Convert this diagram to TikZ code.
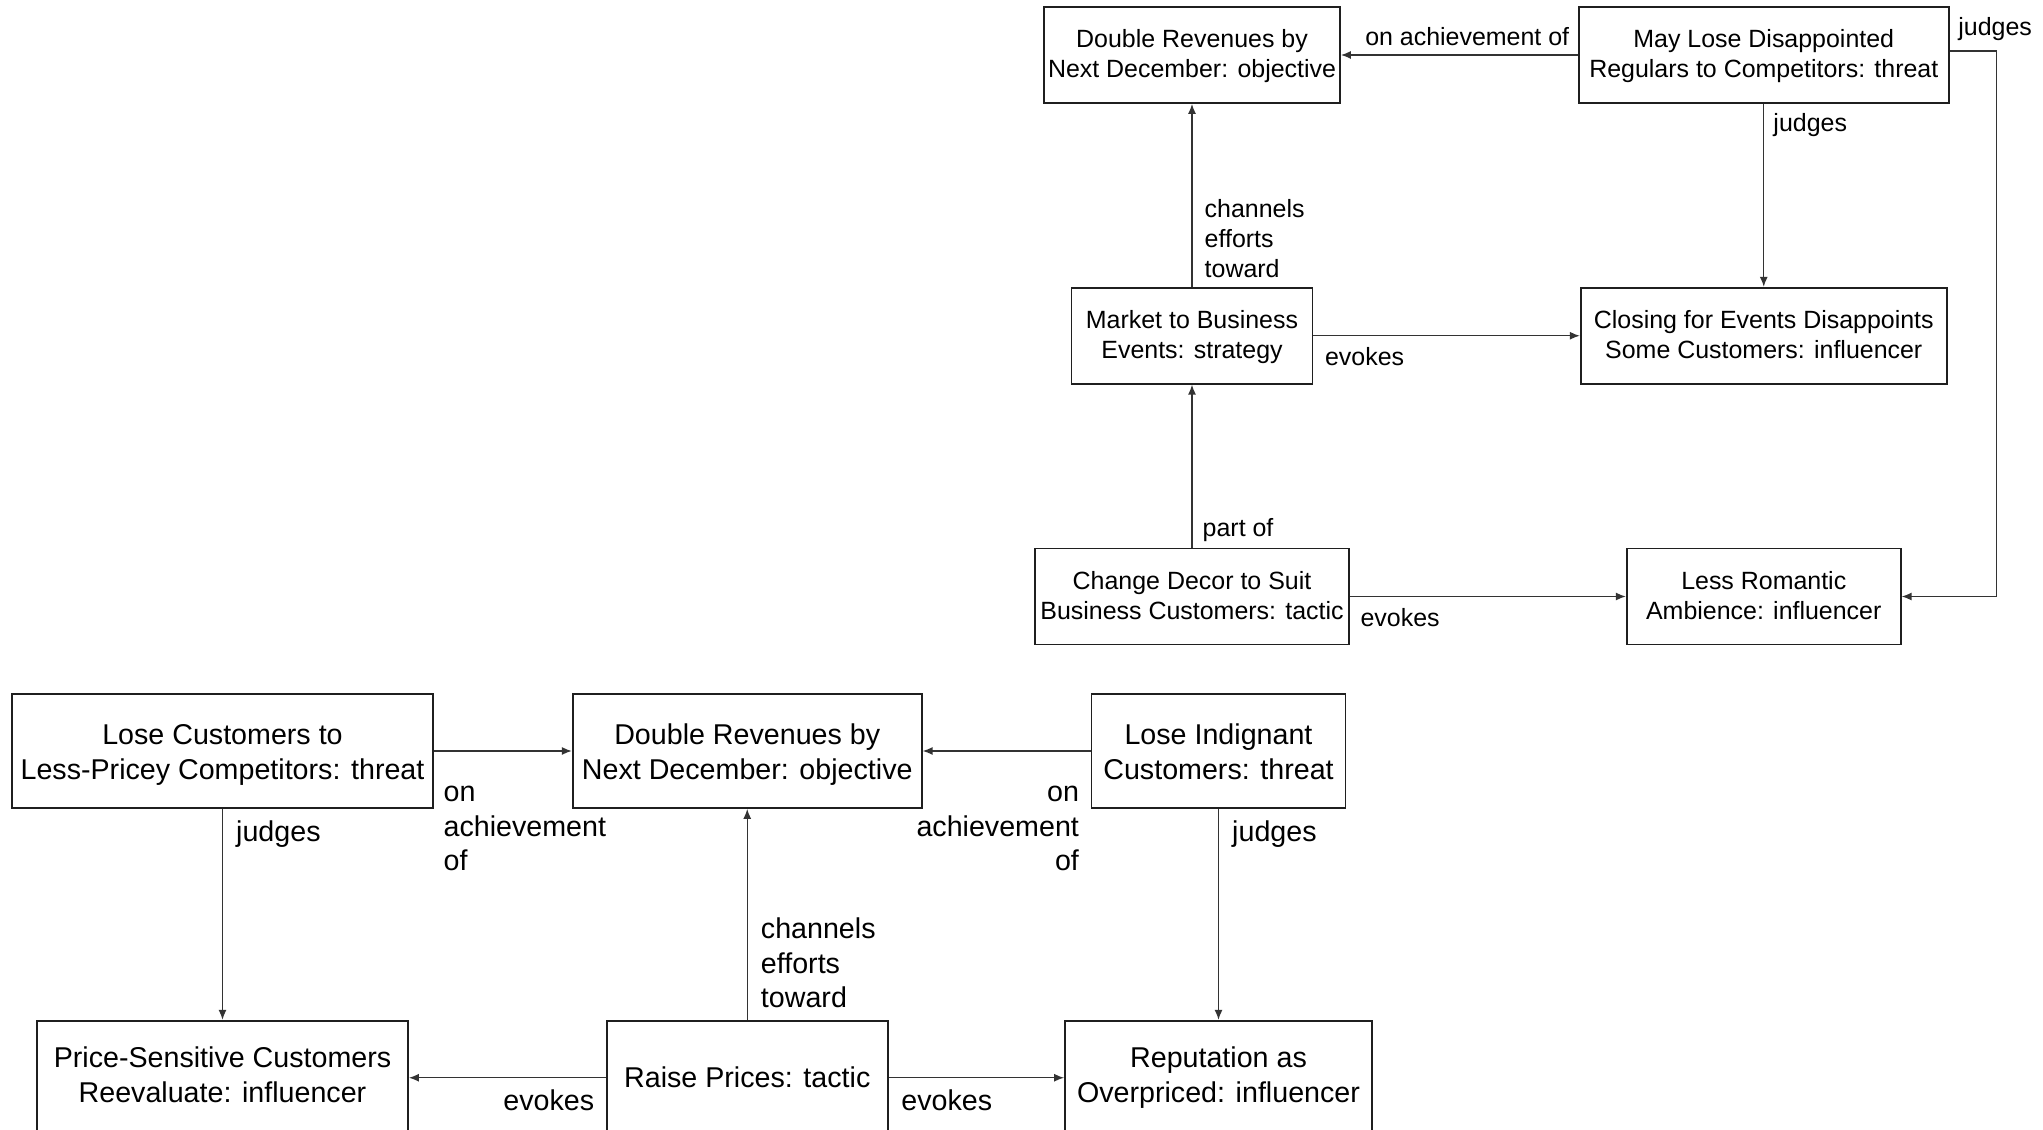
\documentclass[tikz,border=0pt]{standalone}
\usepackage{fontspec}
\setmainfont{Liberation Sans}
\usetikzlibrary{arrows.meta,positioning}
\definecolor{MapEdge}{HTML}{1F1F1F}
\definecolor{MapLine}{HTML}{333333}

\begin{document}
\begin{tikzpicture}[
  topbox/.style={rectangle,draw=MapEdge,line width=0.5pt,align=center,inner sep=0pt,minimum height=0.96cm,font=\fontsize{7.1}{8.5}\selectfont,execute at begin node=\rule{0pt}{15pt},execute at end node=\rule[-2pt]{0pt}{2pt}},
  botone/.style={rectangle,draw=MapEdge,line width=0.5pt,align=center,inner sep=0pt,minimum height=1.14cm,font=\fontsize{8.15}{9.9}\selectfont},
  botbox/.style={botone,execute at begin node=\rule{0pt}{#1},execute at end node=\rule[-2.3pt]{0pt}{2.3pt}},
  botbox/.default=18.6pt,
  toplbl/.style={inner sep=0pt,align=left,font=\fontsize{7.1}{8.5}\selectfont,execute at begin node=\strut,execute at end node=\strut},
  botlbl/.style={inner sep=0pt,align=left,font=\fontsize{8.15}{9.8}\selectfont,execute at begin node=\strut,execute at end node=\strut},
  link/.style={-{Latex[length=1mm,width=0.8mm]},draw=MapLine,line width=0.4pt}
]
\useasboundingbox (0,0) rectangle (20.43,-11.30);
% upper map: business events
\node[topbox,minimum width=2.96cm] (obj1) at (11.92,-0.55) {Double Revenues by\\Next December: objective};
\node[topbox,minimum width=3.70cm,right=2.37cm of obj1] (maylose) {May Lose Disappointed\\Regulars to Competitors: threat};
\node[topbox,minimum width=2.41cm,below=1.83cm of obj1] (market) {Market to Business\\Events: strategy};
\node[topbox,minimum width=3.66cm,below=1.83cm of maylose] (closing) {Closing for Events Disappoints\\Some Customers: influencer};
\node[topbox,minimum width=3.14cm,below=1.63cm of market] (decor) {Change Decor to Suit\\Business Customers: tactic};
\node[topbox,minimum width=2.74cm,below=1.63cm of closing] (romantic) {Less Romantic\\Ambience: influencer};
\draw[link] (market) -- node[toplbl,at start,anchor=south west,xshift=0.12cm]{channels\\efforts\\toward} (obj1);
\draw[link] (decor) -- node[toplbl,at start,anchor=south west,xshift=0.10cm,yshift=0.01cm]{part of} (market);
\draw[link] (maylose) -- node[toplbl,at start,anchor=south east,xshift=-0.08cm]{on achievement of} (obj1);
\draw[link] (maylose) -- node[toplbl,at start,anchor=north west,xshift=0.09cm,yshift=-0.06cm]{judges} (closing);
\draw[link] (market) -- node[toplbl,at start,anchor=north west,xshift=0.11cm,yshift=-0.08cm]{evokes} (closing);
\draw[link] (decor) -- node[toplbl,at start,anchor=north west,xshift=0.10cm,yshift=-0.08cm]{evokes} (romantic);
\draw[link] ([yshift=0.04cm]maylose.east) -- node[toplbl,at start,anchor=south west,xshift=0.08cm,yshift=0.06cm]{judges} ([xshift=0.47cm,yshift=0.04cm]maylose.east) |- (romantic);

% lower map: raise prices
\node[botbox,minimum width=4.21cm] (losecust) at (2.225,-7.51) {Lose Customers to\\Less-Pricey Competitors: threat};
\node[botbox,minimum width=3.49cm,right=1.38cm of losecust] (obj2) {Double Revenues by\\Next December: objective};
\node[botbox,minimum width=2.54cm,right=1.68cm of obj2] (loseind) {Lose Indignant\\Customers: threat};
\node[botbox=16.4pt,minimum width=3.71cm,below=2.11cm of losecust] (pricesens) {Price-Sensitive Customers\\Reevaluate: influencer};
\node[botone,minimum width=2.81cm,below=2.11cm of obj2] (raise) {Raise Prices: tactic};
\node[botbox=16.4pt,minimum width=3.07cm,below=2.11cm of loseind] (reputation) {Reputation as\\Overpriced: influencer};
\draw[link] (losecust) -- node[botlbl,at start,anchor=north west,xshift=0.09cm,yshift=-0.345cm]{on\\achievement\\of} (obj2);
\draw[link] (loseind) -- node[botlbl,at start,anchor=north east,align=right,xshift=-0.11cm,yshift=-0.345cm]{on\\achievement\\of} (obj2);
\draw[link] (losecust) -- node[botlbl,at start,anchor=north west,xshift=0.13cm,yshift=-0.08cm]{judges} (pricesens);
\draw[link] (loseind) -- node[botlbl,at start,anchor=north west,xshift=0.13cm,yshift=-0.08cm]{judges} (reputation);
\draw[link] (raise) -- node[botlbl,at start,anchor=south west,xshift=0.13cm,yshift=0.01cm]{channels\\efforts\\toward} (obj2);
\draw[link] (raise) -- node[botlbl,at start,anchor=north east,xshift=-0.11cm,yshift=-0.08cm]{evokes} (pricesens);
\draw[link] (raise) -- node[botlbl,at start,anchor=north west,xshift=0.12cm,yshift=-0.08cm]{evokes} (reputation);
\end{tikzpicture}
\end{document}
